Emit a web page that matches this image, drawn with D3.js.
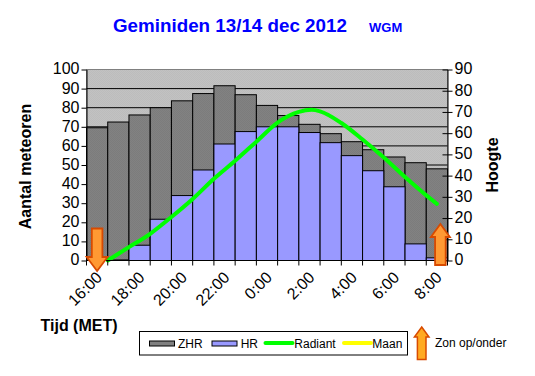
<!DOCTYPE html>
<html><head><meta charset="utf-8"><script src="https://cdn.jsdelivr.net/npm/d3@7"></script>
<style>html,body{margin:0;padding:0;background:#fff}svg{display:block}text{font-family:"Liberation Sans",Arial,sans-serif}</style></head>
<body><script>
const hours = ["16:00","17:00","18:00","19:00","20:00","21:00","22:00","23:00","0:00","1:00","2:00","3:00","4:00","5:00","6:00","7:00","8:00"];
const tickLabels = ["16:00","18:00","20:00","22:00","0:00","2:00","4:00","6:00","8:00"];
const zhr = [69.5,72.5,76.2,80,83.6,87.4,91.5,86.8,81.2,75.9,71.3,66.4,62.2,58,54.2,51.2,48];
const hr = [0,0.3,8,21.6,34,47.4,61,67.5,70,70,67,61.7,54.9,47,38.6,8.7,1.4];
const radiantPos = [1,2,3,4,5,6,7,8,9,10,10.6,11,12,13,14,15,16,16.5];
const radiantAlt = [0,6.3,12.6,20.5,29,38.5,47,56,65,70,71,70.3,64.8,57,48.5,39.3,30.7,26.7];
const leftTicks = d3.range(0,101,10);
const rightTicks = d3.range(0,91,10);
const sunDown = ["16:00"], sunUp = ["8:00"];
const legendItems = ["ZHR","HR","Radiant","Maan"];

const W=535,H=376;
const svg=d3.select("body").append("svg").attr("width",W).attr("height",H);
const defs=svg.append("defs");
function dither(id,a,b){const p=defs.append("pattern").attr("id",id).attr("width",2).attr("height",2).attr("patternUnits","userSpaceOnUse");
 p.append("rect").attr("width",2).attr("height",2).attr("fill",a);
 p.append("rect").attr("width",1).attr("height",1).attr("fill",b);
 p.append("rect").attr("x",1).attr("y",1).attr("width",1).attr("height",1).attr("fill",b);}
dither("bgP","#c2c2c2","#bcbcbc");
dither("zhrP","#828282","#7c7c7c");

const x0=86.5,x1=447.5,yT=69.5,yB=260.5;
const band=d3.scaleBand().domain(hours).range([x0,x1]);
const xPos=d3.scaleLinear().domain([0,hours.length]).range([x0,x1]);
const yL=d3.scaleLinear().domain([0,100]).range([yB,yT]);
const yR=d3.scaleLinear().domain([0,90]).range([yB,yT]);

svg.append("rect").attr("x",x0).attr("y",yT).attr("width",x1-x0).attr("height",yB-yT).attr("fill","url(#bgP)").attr("stroke","#808080");
svg.append("g").selectAll("line").data(leftTicks.filter(d=>d>0&&d<100)).join("line")
 .attr("x1",x0).attr("x2",x1).attr("y1",d=>yL(d)).attr("y2",d=>yL(d)).attr("stroke","#000");

svg.append("g").selectAll("rect").data(zhr).join("rect")
 .attr("x",(d,i)=>band(hours[i])).attr("width",band.bandwidth()).attr("y",d=>yL(d)).attr("height",d=>yB-yL(d))
 .attr("fill","url(#zhrP)").attr("stroke","#000");
svg.append("g").selectAll("rect").data(hr).join("rect")
 .attr("x",(d,i)=>band(hours[i])).attr("width",band.bandwidth()).attr("y",d=>yL(d)).attr("height",d=>yB-yL(d))
 .attr("fill","#9999ff").attr("stroke","#000");

const line=d3.line().x(d=>xPos(d[0])).y(d=>yR(d[1])).curve(d3.curveMonotoneX);
svg.append("path").attr("d",line(radiantPos.map((p,i)=>[p,radiantAlt[i]]))).attr("fill","none").attr("stroke","#00ff00").attr("stroke-width",4).attr("stroke-linecap","round");

// axes
const axL=svg.append("g").attr("transform",`translate(${x0},0)`).call(d3.axisLeft(yL).tickValues(leftTicks).tickSize(5).tickSizeOuter(0));
const axR=svg.append("g").attr("transform",`translate(${x1},0)`).call(d3.axisRight(yR).tickValues(rightTicks).tickSize(5).tickSizeOuter(0));
for(const a of [axL,axR]){a.selectAll("path.domain").attr("stroke","#000");a.selectAll("line").attr("stroke","#000");
 a.selectAll("text").attr("font-size",16).attr("fill","#000").attr("dy","0.28em").style("font-family",'"Liberation Sans",Arial,sans-serif');}
axL.selectAll("text").attr("x",-7);axR.selectAll("text").attr("x",7);
axR.selectAll("line").attr("x1",-5).attr("x2",5);
svg.append("line").attr("x1",x0).attr("x2",x1).attr("y1",yB).attr("y2",yB).attr("stroke","#000");
svg.append("g").selectAll("line").data(d3.range(0,hours.length+1)).join("line")
 .attr("x1",d=>xPos(d)).attr("x2",d=>xPos(d)).attr("y1",yB).attr("y2",yB+5).attr("stroke","#000");
svg.append("g").selectAll("text").data(tickLabels).join("text")
 .attr("transform",d=>`translate(${band(d)+band.bandwidth()/2+6},${yB+18}) rotate(-45)`)
 .attr("text-anchor","end").attr("font-size",16).attr("fill","#000").text(d=>d);

// titles
svg.append("text").attr("x",113).attr("y",32).attr("font-size",18.8).attr("font-weight","bold").attr("fill","#0000ff").text("Geminiden 13/14 dec 2012");
svg.append("text").attr("x",369).attr("y",32).attr("font-size",13).attr("font-weight","bold").attr("fill","#0000ff").text("WGM");
svg.append("text").attr("transform","translate(31,166.5) rotate(-90)").attr("text-anchor","middle").attr("font-size",16).attr("font-weight","bold").text("Aantal meteoren");
svg.append("text").attr("transform","translate(498,165) rotate(-90)").attr("text-anchor","middle").attr("font-size",16).attr("font-weight","bold").text("Hoogte");
svg.append("text").attr("x",40.5).attr("y",330.5).attr("font-size",16).attr("font-weight","bold").text("Tijd (MET)");

// arrows
function arrow(cx,tipY,endY,headBaseY,hw,sw,w,fill){
 const dirn=`M${cx},${tipY}L${cx+hw},${headBaseY}L${cx+sw},${headBaseY}L${cx+sw},${endY}L${cx-sw},${endY}L${cx-sw},${headBaseY}L${cx-hw},${headBaseY}Z`;
 svg.append("path").attr("d",dirn).attr("fill",fill).attr("stroke","#d84a00").attr("stroke-width",w).attr("stroke-linejoin","miter");
}
const cx=d=>band(d)+band.bandwidth()/2;
sunDown.forEach(d=>arrow(cx(d),271,228.5,257,10.5,5.3,1.8,"#ff9933"));
sunUp.forEach(d=>arrow(cx(d)+3.5,224,265,237,9.5,5.3,1.8,"#ff9933"));

// legend
const lg=svg.append("g");
lg.append("rect").attr("x",139.5).attr("y",331.5).attr("width",268).attr("height",23.5).attr("fill","#fff").attr("stroke","#000");
const swX=[149,211.5,264.5,343], txX=[178,240.7,294.3,372.3];
legendItems.forEach((t,i)=>{
 if(i<2) lg.append("rect").attr("x",swX[i]+.5).attr("y",341).attr("width",25).attr("height",5).attr("fill",i==0?"#808080":"#9999ff").attr("stroke","#000");
 else lg.append("line").attr("x1",swX[i]+1).attr("x2",swX[i]+28).attr("y1",343).attr("y2",343).attr("stroke",i==2?"#00ff00":"#ffff00").attr("stroke-width",4).attr("stroke-linecap","round");
 lg.append("text").attr("x",txX[i]).attr("y",347.5).attr("font-size",12).attr("fill","#000").text(t);
});
arrow(421.7,327,359.5,337,7.3,4.3,1.5,"#ffaa22");
svg.append("text").attr("x",435).attr("y",347).attr("font-size",12).attr("fill","#000").text("Zon op/onder");
</script></body></html>
